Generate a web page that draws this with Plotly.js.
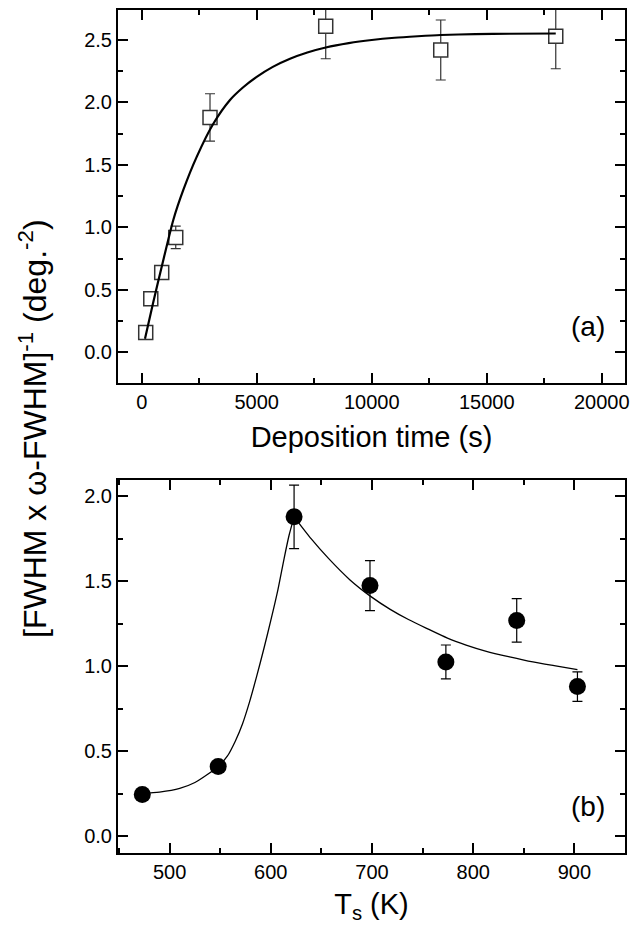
<!DOCTYPE html>
<html>
<head>
<meta charset="utf-8">
<script src="https://cdn.plot.ly/plotly-3.0.1.min.js"></script>
<style>html,body{margin:0;padding:0;background:#fff;}#chart{width:635px;height:932px;}</style>
</head>
<body>
<div id="chart"></div>
<script>
// Panel (a): deposition time series
const depTime = [175, 395, 870, 1480, 2970, 8000, 13000, 18000];
const depValue = [0.16, 0.43, 0.64, 0.92, 1.88, 2.61, 2.42, 2.53];
const depErr = [0.03, 0.03, 0.02, 0.09, 0.19, 0.26, 0.24, 0.26];
const depTicks = [0, 5000, 10000, 15000, 20000];
const depTickText = ['0', '5000', '10000', '15000', '20000'];
// fitted curve
const fitATime = [143, 500, 870, 1374, 1809, 2391, 3113, 3839, 4400, 5000, 5700, 6448, 7200, 8000, 9000, 10000, 11000, 12000, 13000, 14500, 16000, 18000];
const fitAValue = [0.11, 0.40, 0.685, 1.06, 1.30, 1.565, 1.83, 2.02, 2.12, 2.205, 2.285, 2.35, 2.40, 2.44, 2.475, 2.50, 2.518, 2.53, 2.54, 2.547, 2.55, 2.552];

// Panel (b): substrate temperature series
const tempK = [473, 548, 623, 698, 773, 843, 903];
const tempValue = [0.245, 0.41, 1.88, 1.475, 1.025, 1.27, 0.88];
const tempErr = [0, 0, 0.187, 0.147, 0.10, 0.128, 0.087];
const tempTicks = [500, 600, 700, 800, 900];
// fitted curve: rising and falling branches
const fitRiseT = [473, 490, 510, 525, 538, 548, 557, 565, 572, 579, 586, 593, 600, 607, 613, 618, 623];
const fitRiseV = [0.25, 0.258, 0.28, 0.315, 0.365, 0.41, 0.47, 0.56, 0.66, 0.79, 0.94, 1.10, 1.27, 1.45, 1.63, 1.77, 1.88];
const fitFallT = [623, 640, 657, 678, 699, 718, 736, 755, 774, 793, 813, 836, 859, 880, 903];
const fitFallV = [1.88, 1.75, 1.635, 1.51, 1.41, 1.335, 1.275, 1.22, 1.167, 1.125, 1.088, 1.055, 1.025, 1.003, 0.98];

const FONT = 'Liberation Sans, Arial, Helvetica, sans-serif';

const traces = [
  {x: depTime, y: depValue, xaxis: 'x', yaxis: 'y', type: 'scatter', mode: 'markers',
   marker: {symbol: 'square', size: 14, color: '#ffffff', line: {color: '#333', width: 1.5}},
   error_y: {type: 'data', array: depErr, visible: true, color: '#333', thickness: 1.2, width: 5},
   showlegend: false},
  {x: fitATime, y: fitAValue, xaxis: 'x', yaxis: 'y', type: 'scatter', mode: 'lines',
   line: {color: '#000', width: 2.2, shape: 'spline', smoothing: 0.7}, showlegend: false},
  {x: tempK, y: tempValue, xaxis: 'x2', yaxis: 'y2', type: 'scatter', mode: 'markers',
   marker: {symbol: 'circle', size: 17, color: '#000'},
   error_y: {type: 'data', array: tempErr, visible: true, color: '#000', thickness: 1.2, width: 5},
   showlegend: false},
  {x: fitRiseT, y: fitRiseV, xaxis: 'x2', yaxis: 'y2', type: 'scatter', mode: 'lines',
   line: {color: '#000', width: 1.3, shape: 'spline', smoothing: 0.7}, showlegend: false},
  {x: fitFallT, y: fitFallV, xaxis: 'x2', yaxis: 'y2', type: 'scatter', mode: 'lines',
   line: {color: '#000', width: 1.3, shape: 'spline', smoothing: 0.7}, showlegend: false}
];

const axisCommon = {
  showline: true, linecolor: '#000', linewidth: 2, mirror: 'ticks',
  ticks: 'inside', ticklen: 10, tickwidth: 2, tickcolor: '#000',
  showgrid: false, zeroline: false,
  tickfont: {family: FONT, size: 20, color: '#000'}
};

const layout = {
  width: 635, height: 932,
  margin: {l: 118, r: 10, t: 10, b: 79},
  paper_bgcolor: '#fff', plot_bgcolor: '#fff',
  font: {family: FONT, color: '#000'},
  xaxis: Object.assign({}, axisCommon, {
    domain: [0, 1], anchor: 'y', range: [-1030, 21010],
    tickmode: 'array', tickvals: depTicks, ticktext: depTickText,
    minor: {tickvals: [2500, 7500, 12500, 17500], ticks: 'inside', ticklen: 5, tickwidth: 2, tickcolor: '#000'},
    title: {text: 'Deposition time (s)', font: {family: FONT, size: 29}, standoff: 15}
  }),
  yaxis: Object.assign({}, axisCommon, {
    domain: [0.5575, 1], anchor: 'x', range: [-0.245, 2.74],
    tickvals: [0, 0.5, 1, 1.5, 2, 2.5], tickformat: '.1f',
    minor: {tickvals: [0.25, 0.75, 1.25, 1.75, 2.25], ticks: 'inside', ticklen: 5, tickwidth: 2, tickcolor: '#000'}
  }),
  xaxis2: Object.assign({}, axisCommon, {
    domain: [0, 1], anchor: 'y2', range: [449, 950],
    tickmode: 'array', tickvals: tempTicks, ticktext: tempTicks.map(String),
    minor: {tickvals: [450, 550, 650, 750, 850], ticks: 'inside', ticklen: 5, tickwidth: 2, tickcolor: '#000'},
    title: {text: 'T<sub>s</sub> (K)', font: {family: FONT, size: 29}, standoff: 12}
  }),
  yaxis2: Object.assign({}, axisCommon, {
    domain: [0, 0.4425], anchor: 'x2', range: [-0.1, 2.097],
    tickvals: [0, 0.5, 1, 1.5, 2], tickformat: '.1f',
    minor: {tickvals: [0.25, 0.75, 1.25, 1.75], ticks: 'inside', ticklen: 5, tickwidth: 2, tickcolor: '#000'}
  }),
  annotations: [
    {text: '[FWHM x \u03c9-FWHM]<sup>-1</sup> (deg.<sup>-2</sup>)', xref: 'paper', yref: 'paper',
     x: -0.168, y: 0.504, xanchor: 'center', yanchor: 'middle', textangle: -90, showarrow: false,
     font: {family: FONT, size: 32, color: '#000'}},
    {text: '(a)', xref: 'paper', yref: 'paper', x: 0.927, y: 0.624, xanchor: 'center', yanchor: 'middle',
     showarrow: false, font: {family: FONT, size: 28, color: '#000'}},
    {text: '(b)', xref: 'paper', yref: 'paper', x: 0.927, y: 0.055, xanchor: 'center', yanchor: 'middle',
     showarrow: false, font: {family: FONT, size: 28, color: '#000'}}
  ]
};

Plotly.newPlot('chart', traces, layout, {staticPlot: true, displayModeBar: false});
</script>
</body>
</html>
